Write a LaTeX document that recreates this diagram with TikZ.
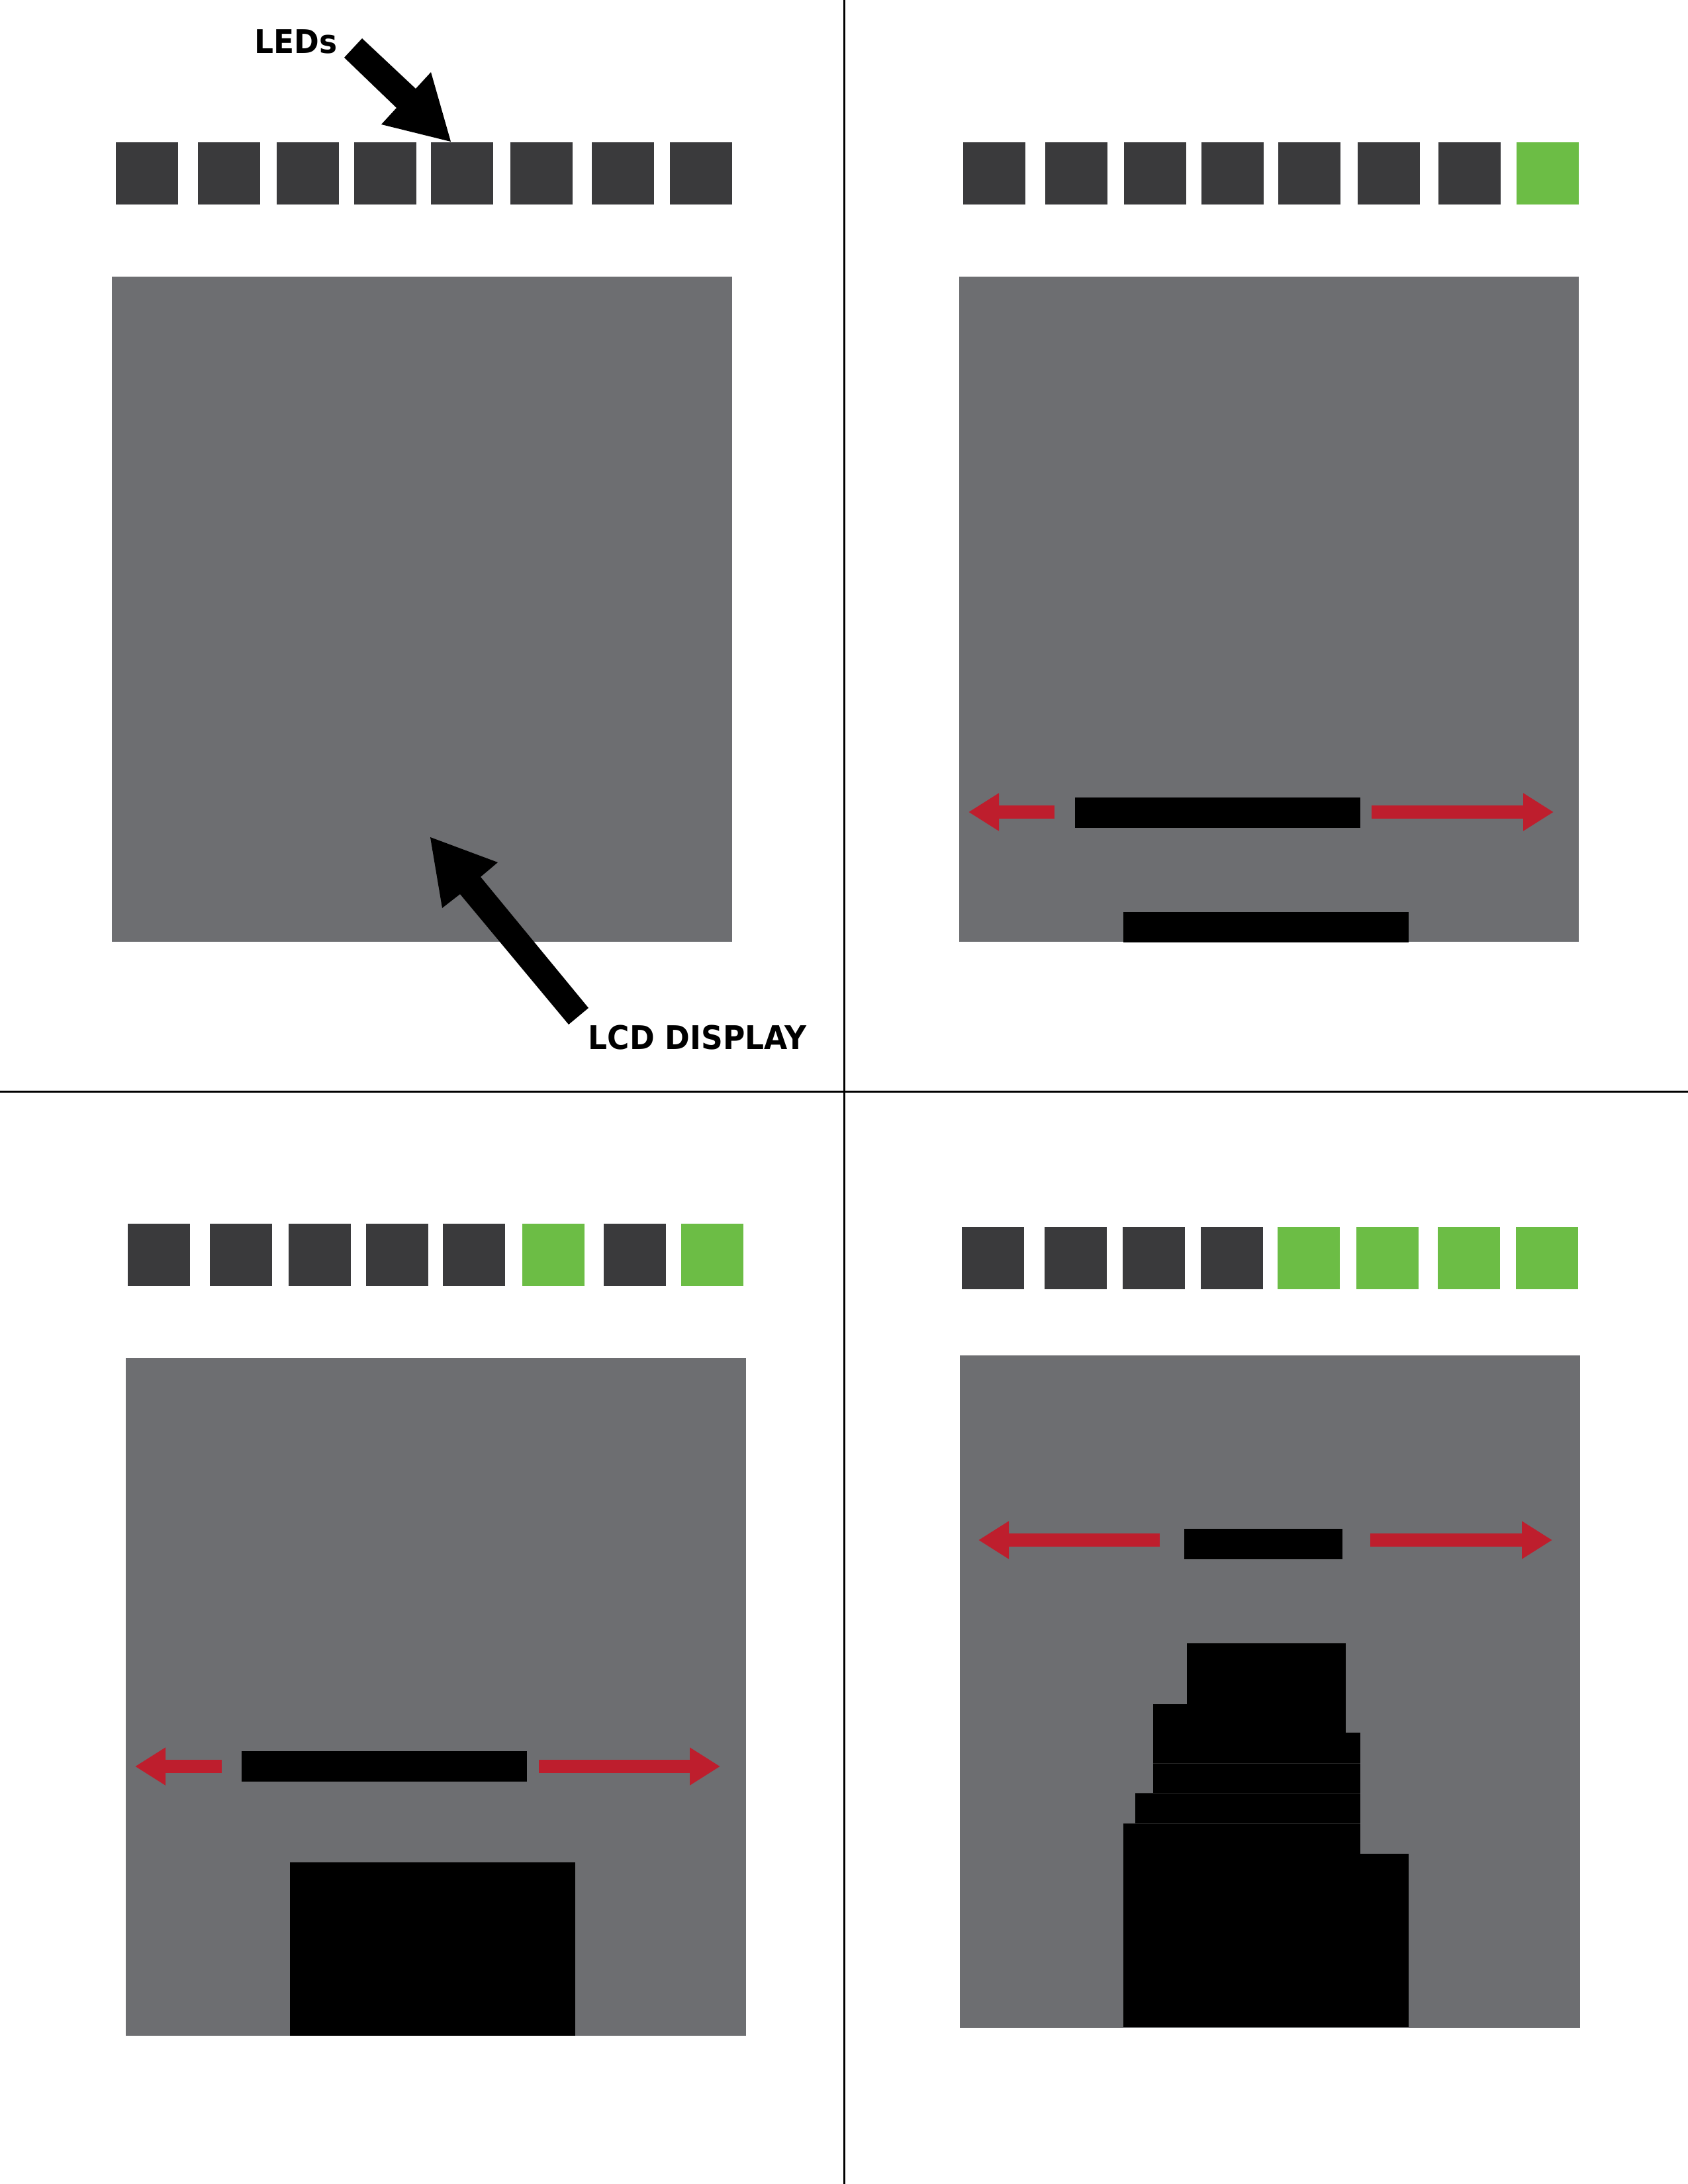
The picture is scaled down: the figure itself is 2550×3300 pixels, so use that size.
\documentclass[tikz,border=0pt]{standalone}
\usepackage{fontspec}
\usetikzlibrary{arrows.meta}
\newfontfamily\labelfont{DejaVu Sans}[FakeStretch=0.925]
\definecolor{lcdgray}{RGB}{109,110,113}
\definecolor{ledoff}{RGB}{58,58,60}
\definecolor{ledon}{RGB}{108,189,69}
\definecolor{pushred}{RGB}{190,30,45}
\definecolor{seam}{RGB}{38,38,38}
\tikzset{
  led/.style={anchor=north west, inner sep=0pt, minimum width=9.4mm, minimum height=9.4mm},
  lcd/.style={anchor=north west, inner sep=0pt, fill=lcdgray},
  bar/.style={anchor=north west, inner sep=0pt, fill=black},
  redarrow/.style={draw=pushred, line width=2mm, -{Triangle[length=4.6mm, width=5.4mm]}},
  callout/.style={inner sep=0pt, anchor=base west, font=\labelfont\bfseries\fontsize{14}{16}\selectfont}
}
\begin{document}
\begin{tikzpicture}[x=0.1mm, y=-0.1mm]
\fill[white] (0,0) rectangle (2550,3300);
\useasboundingbox (0,0) rectangle (2550,3300);

% panel dividers
\draw[line width=0.3mm] (1275,0) -- (1275,3300);
\draw[line width=0.3mm] (0,1649) -- (2550,1649);

% --- panel 1: all LEDs off
\foreach \x [count=\i] in {174,298,417,534,650,770,893,1011}
  \node[led, fill=ledoff] (ledA\i) at (\x,214) {};
\node[lcd, minimum width=93.7mm, minimum height=100.5mm] (lcdA) at (168,417) {};
\node[callout] (ledlabel) at (384,81) {LEDs};
\node[callout] (lcdlabel) at (888,1585) {LCD DISPLAY};
\fill (547,58) -- (628,134) -- (651,109) -- (681,214) -- (576,188) -- (599,163) -- (520,87) -- cycle;
\fill (650,1265) -- (752,1303) -- (726,1325) -- (889,1523) -- (859,1548) -- (695,1351) -- (668,1372) -- cycle;

% --- panel 2
\foreach \x/\c [count=\i] in {1454/ledoff,1578/ledoff,1697/ledoff,1814/ledoff,1930/ledoff,2050/ledoff,2172/ledoff,2290/ledon}
  \node[led, fill=\c] (ledB\i) at (\x,214) {};
\node[lcd, minimum width=93.6mm, minimum height=100.5mm] (lcdB) at (1448,417) {};
\node[bar, minimum width=43.1mm, minimum height=4.6mm] (barB) at (1623,1204) {};
\node[bar, minimum width=43.1mm, minimum height=4.6mm] (rowB) at (1696,1377) {};
\coordinate (tailBl) at (1593,1227);
\coordinate (tipBl) at (1463,1227);
\coordinate (tailBr) at (2072,1227);
\coordinate (tipBr) at (2347,1227);
\draw[redarrow] (tailBl) -- (tipBl);
\draw[redarrow] (tailBr) -- (tipBr);

% --- panel 3
\foreach \x/\c [count=\i] in {192/ledoff,316/ledoff,435/ledoff,552/ledoff,668/ledoff,788/ledon,911/ledoff,1028/ledon}
  \node[led, fill=\c] (ledC\i) at (\x,1848) {};
\node[lcd, minimum width=93.7mm, minimum height=102.4mm] (lcdC) at (189,2051) {};
\node[bar, minimum width=43.1mm, minimum height=4.6mm] (barC) at (364,2645) {};
\node[bar, minimum width=43.1mm, minimum height=26.2mm] (rowC) at (437,2813) {};
\coordinate (tailCl) at (335,2669);
\coordinate (tipCl) at (204,2669);
\coordinate (tailCr) at (814,2669);
\coordinate (tipCr) at (1088,2669);
\draw[redarrow] (tailCl) -- (tipCl);
\draw[redarrow] (tailCr) -- (tipCr);

% --- panel 4
\foreach \x/\c [count=\i] in {1452/ledoff,1577/ledoff,1695/ledoff,1813/ledoff,1929/ledon,2048/ledon,2171/ledon,2289/ledon}
  \node[led, fill=\c] (ledD\i) at (\x,1853) {};
\node[lcd, minimum width=93.7mm, minimum height=101.6mm] (lcdD) at (1449,2047) {};
\node[bar, minimum width=23.9mm, minimum height=4.6mm] (barD) at (1788,2309) {};
\foreach \xa/\ya/\xb/\yb in {1793/2483/2033/2575, 1742/2575/2033/2618, 1742/2618/2055/2664,
    1742/2664/2055/2709, 1715/2709/2055/2755, 1697/2755/2055/2801, 1697/2801/2128/3063}
  \fill (\xa,\ya) rectangle (\xb,\yb);
\foreach \xa/\y in {1742/2664, 1715/2709, 1697/2755}
  \draw[seam, line width=0.15pt] (\xa,\y) -- (2055,\y);
\coordinate (tailDl) at (1752,2327);
\coordinate (tipDl) at (1478,2327);
\coordinate (tailDr) at (2070,2327);
\coordinate (tipDr) at (2345,2327);
\draw[redarrow] (tailDl) -- (tipDl);
\draw[redarrow] (tailDr) -- (tipDr);
\end{tikzpicture}
\end{document}
